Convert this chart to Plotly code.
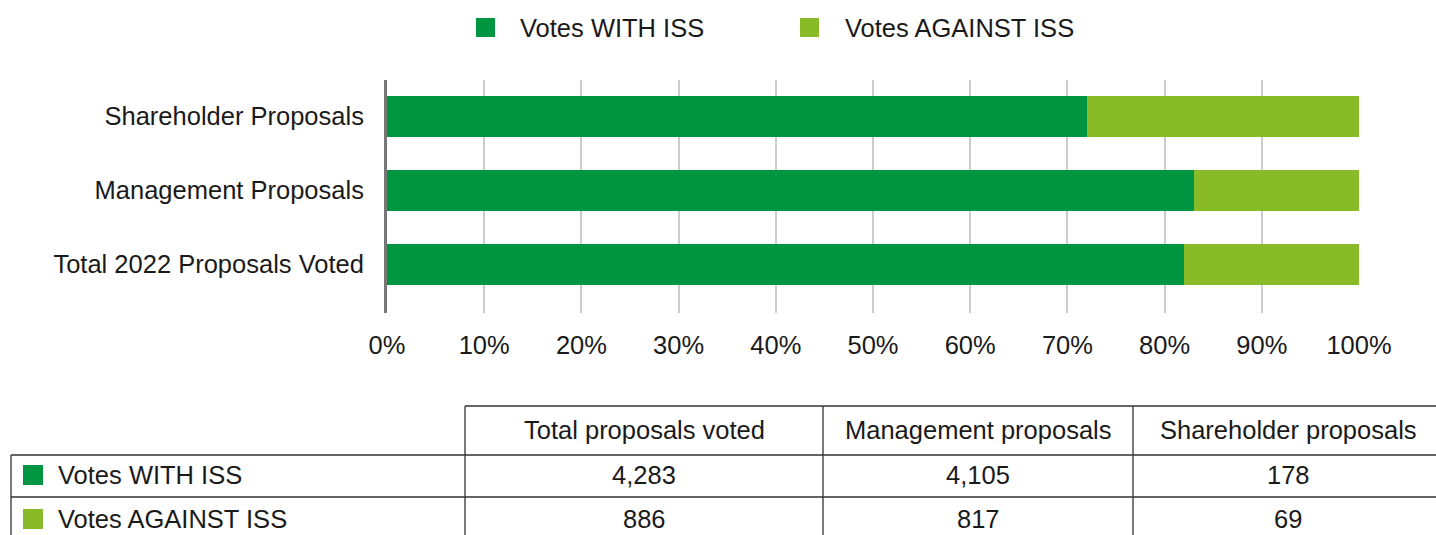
import plotly.graph_objects as go

categories = ["Total 2022 Proposals Voted", "Management Proposals", "Shareholder Proposals"]
with_pct = [82, 83, 72]
against_pct = [18, 17, 28]
series_names = ["Votes WITH ISS", "Votes AGAINST ISS"]
colors = ["#009540", "#89BB28"]
tick_vals = [0, 10, 20, 30, 40, 50, 60, 70, 80, 90, 100]
tick_text = ["0%", "10%", "20%", "30%", "40%", "50%", "60%", "70%", "80%", "90%", "100%"]

table_header = ["Total proposals voted", "Management proposals", "Shareholder proposals"]
with_counts = ["4,283", "4,105", "178"]
against_counts = ["886", "817", "69"]

W, H = 1436, 535
L, R, T, B = 387, 1359, 80, 313
FONT = "Liberation Sans"
FS = 25.5
TXT = "#1a1a1a"

def px(x):
    return (x - L) / (R - L)

def py(y):
    return (B - y) / (B - T)

fig = go.Figure()
fig.add_trace(go.Bar(y=categories, x=with_pct, name=series_names[0], orientation="h",
                     marker=dict(color=colors[0], line=dict(width=0)), width=0.55))
fig.add_trace(go.Bar(y=categories, x=against_pct, name=series_names[1], orientation="h",
                     marker=dict(color=colors[1], line=dict(width=0)), width=0.55))

shapes = []
line_col = "#333333"
# table horizontal lines
shapes.append(dict(type="line", xref="paper", yref="paper", x0=px(465), x1=px(1440), y0=py(406), y1=py(406), line=dict(color=line_col, width=1.3)))
for yy in (455, 497):
    shapes.append(dict(type="line", xref="paper", yref="paper", x0=px(11), x1=px(1440), y0=py(yy), y1=py(yy), line=dict(color=line_col, width=1.3)))
# vertical lines
shapes.append(dict(type="line", xref="paper", yref="paper", x0=px(11), x1=px(11), y0=py(455), y1=py(540), line=dict(color=line_col, width=1.3)))
for xx in (465, 823, 1133):
    shapes.append(dict(type="line", xref="paper", yref="paper", x0=px(xx), x1=px(xx), y0=py(406), y1=py(540), line=dict(color=line_col, width=1.3)))
# row legend squares
for yc, c in ((475, colors[0]), (519, colors[1])):
    shapes.append(dict(type="rect", xref="paper", yref="paper", x0=px(23), x1=px(43), y0=py(yc - 10), y1=py(yc + 10), fillcolor=c, line=dict(width=0)))
# top legend squares
for xs, c in ((476, colors[0]), (800, colors[1])):
    shapes.append(dict(type="rect", xref="paper", yref="paper", x0=px(xs), x1=px(xs + 19), y0=py(18), y1=py(37), fillcolor=c, line=dict(width=0)))

annotations = []
col_centers = [644, 978, 1288]
for cx, h, w_, a_ in zip(col_centers, table_header, with_counts, against_counts):
    annotations.append(dict(xref="paper", yref="paper", x=px(cx), y=py(430), text=h, showarrow=False, xanchor="center", yanchor="middle", font=dict(family=FONT, size=FS, color=TXT)))
    annotations.append(dict(xref="paper", yref="paper", x=px(cx), y=py(475), text=w_, showarrow=False, xanchor="center", yanchor="middle", font=dict(family=FONT, size=FS, color=TXT)))
    annotations.append(dict(xref="paper", yref="paper", x=px(cx), y=py(519), text=a_, showarrow=False, xanchor="center", yanchor="middle", font=dict(family=FONT, size=FS, color=TXT)))
for yc, name in ((475, series_names[0]), (519, series_names[1])):
    annotations.append(dict(xref="paper", yref="paper", x=px(56), y=py(yc), text=name, showarrow=False, xanchor="left", yanchor="middle", font=dict(family=FONT, size=FS, color=TXT)))
for xs, name in ((518, series_names[0]), (843, series_names[1])):
    annotations.append(dict(xref="paper", yref="paper", x=px(xs), y=py(28), text=name, showarrow=False, xanchor="left", yanchor="middle", font=dict(family=FONT, size=FS, color=TXT)))

fig.update_layout(
    width=W, height=H,
    margin=dict(l=L, r=W - R, t=T, b=H - B, pad=0),
    barmode="stack",
    plot_bgcolor="white", paper_bgcolor="white",
    font=dict(family=FONT, size=FS, color=TXT),
    showlegend=False,
    xaxis=dict(range=[0, 100], tickvals=tick_vals, ticktext=tick_text, showgrid=True,
               gridcolor="#cccccc", gridwidth=2, zeroline=False, showline=False,
               ticks="", ticklabelstandoff=14, tickfont=dict(family=FONT, size=FS, color=TXT)),
    yaxis=dict(range=[-0.66, 2.49], showgrid=False, showline=True, linecolor="#777777", linewidth=3,
               ticks="", ticklabelstandoff=15, tickfont=dict(family=FONT, size=FS, color=TXT)),
    shapes=shapes,
    annotations=annotations,
)

fig.write_html("out.html", config={"displayModeBar": False})

with open("out.html", "r", encoding="utf-8") as f:
    html = f.read()
html = html.replace("<body>", '<body style="margin:0;overflow:hidden">', 1)
with open("out.html", "w", encoding="utf-8") as f:
    f.write(html)
